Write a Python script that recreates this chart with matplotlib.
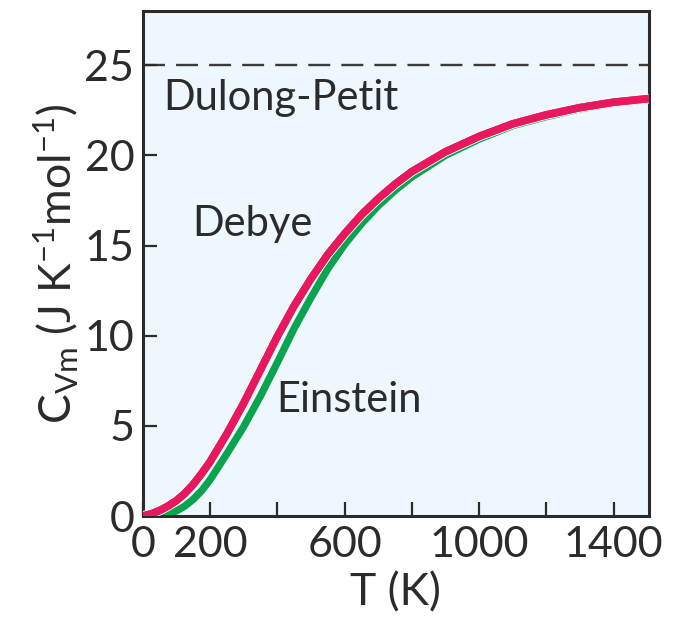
import numpy as np
import matplotlib
matplotlib.use("Agg")
import matplotlib.pyplot as plt
import matplotlib.patheffects as pe

plt.rcParams['font.family'] = ['Lato', 'DejaVu Sans']
plt.rcParams['mathtext.fontset'] = 'custom'
plt.rcParams['mathtext.rm'] = 'Lato'
plt.rcParams['mathtext.it'] = 'Lato:italic'

# values
temps = [0, 25, 50, 75, 100, 125, 150, 175, 200, 250, 300, 350, 400, 450,
         500, 550, 600, 650, 700, 750, 800, 900, 1000, 1100, 1200, 1300,
         1400, 1505]
debye = [0.0, 0.12, 0.3, 0.55, 0.85, 1.25, 1.75, 2.35, 3.0, 4.55, 6.25,
         8.1, 9.95, 11.65, 13.15, 14.5, 15.65, 16.7, 17.6, 18.4, 19.1, 20.2,
         21.05, 21.75, 22.25, 22.65, 22.95, 23.15]
einstein = [0.0, 0.0, 0.05, 0.12, 0.28, 0.55, 0.92, 1.4, 2.0, 3.45, 4.95,
            6.65, 8.5, 10.4, 12.1, 13.7, 15.05, 16.2, 17.2, 18.05, 18.8, 20.0,
            20.9, 21.65, 22.15, 22.58, 22.9, 23.1]
dulong_petit = 25
x_ticks = [0, 200, 400, 600, 800, 1000, 1200, 1400]
x_labels = ["0", "200", "", "600", "", "1000", "", "1400"]
y_ticks = [0, 5, 10, 15, 20, 25]

ink = "#2b2b2b"
fig = plt.figure(figsize=(6.75, 6.18), dpi=100)
ax = fig.add_axes([0.2114, 0.165, 0.750, 0.817])
ax.set_facecolor("#eef7fd")

ax.axhline(dulong_petit, color="#3a3a3a", lw=1.7, ls=(0, (9.3, 4.7)), zorder=1)
ax.plot(temps, einstein, color="#0aa350", lw=5.3, solid_capstyle="butt",
        solid_joinstyle="round", zorder=2)
ax.plot(temps, debye, color="#e8185f", lw=5.5, solid_capstyle="butt",
        solid_joinstyle="round", zorder=3,
        path_effects=[pe.withStroke(linewidth=7, foreground="white"), pe.Normal()])

ax.text(60, 23.2, "Dulong-Petit", fontsize=30, color=ink, va="center", ha="left")
ax.text(146, 16.2, "Debye", fontsize=30, color=ink, va="center", ha="left")
ax.text(398, 6.45, "Einstein", fontsize=30, color=ink, va="center", ha="left")

ax.set_xlim(0, 1505)
ax.set_ylim(0, 28)
ax.set_xticks(x_ticks)
ax.set_xticklabels(x_labels)
ax.set_yticks(y_ticks)
ax.tick_params(direction="in", length=10, width=1.6, color=ink,
               labelsize=31, labelcolor=ink)
ax.tick_params(axis="x", pad=7)
ax.tick_params(axis="y", pad=6)
for s in ax.spines.values():
    s.set_linewidth(2.2)
    s.set_color(ink)

ax.text(-0.171, 0.5, r"C$_{\mathrm{Vm}}$ (J K$^{-1}$mol$^{-1}$)", transform=ax.transAxes,
        rotation=90, ha="center", va="center", fontsize=32, color=ink)
ax.text(0.5, -0.152, "T (K)", transform=ax.transAxes, ha="center",
        va="center", fontsize=32, color=ink)

plt.savefig("out.png", dpi=100)
